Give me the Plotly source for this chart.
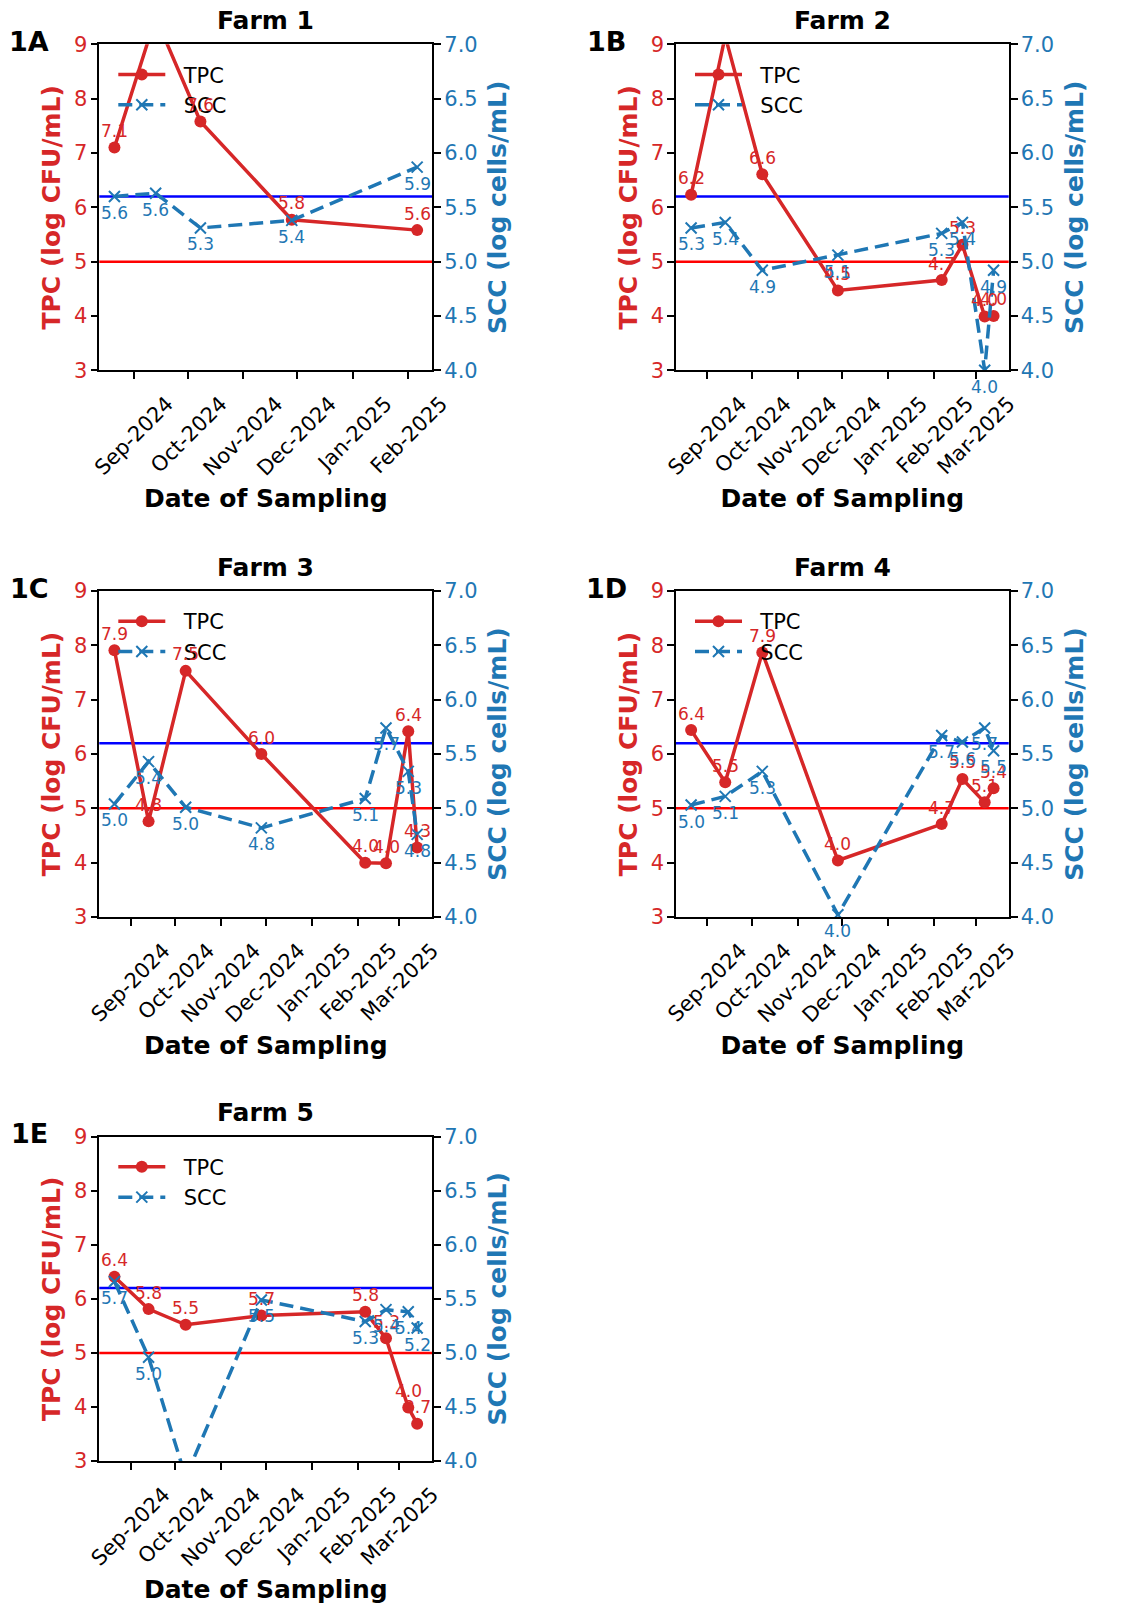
import plotly.graph_objects as go
from datetime import datetime

W, H = 1132, 1622
PAGE_OFFSET = 8  # browser default body margin, compensated in the layout

# ---------------- data ----------------
DATES = ["2024-08-21", "2024-09-13", "2024-10-08", "2024-11-28",
         "2025-02-06", "2025-02-20", "2025-03-07", "2025-03-13"]

FARMS = ["Farm 1", "Farm 2", "Farm 3", "Farm 4", "Farm 5"]
PANELS = ["1A", "1B", "1C", "1D", "1E"]

TPC_F1 = [7.10, 9.50, 7.58, 5.77, 5.58]
SCC_F1 = [5.60, 5.63, 5.31, 5.38, 5.87]
TPC_F2 = [6.23, 9.15, 6.61, 4.47, 4.66, 5.31, 3.99, 4.00]
SCC_F2 = [5.31, 5.36, 4.92, 5.06, 5.26, 5.36, 4.00, 4.92]
TPC_F3 = [7.91, 4.76, 7.53, 6.00, 4.00, 3.99, 6.42, 4.28]
SCC_F3 = [5.04, 5.43, 5.01, 4.82, 5.09, 5.74, 5.34, 4.76]
TPC_F4 = [6.44, 5.48, 7.87, 4.04, 4.71, 5.54, 5.11, 5.37]
SCC_F4 = [5.03, 5.11, 5.34, 4.02, 5.67, 5.61, 5.74, 5.53]
TPC_F5 = [6.41, 5.81, 5.52, 5.69, 5.76, 5.27, 3.99, 3.69]
SCC_F5 = [5.66, 4.96, 3.85, 5.49, 5.29, 5.40, 5.38, 5.23]

TPC_ALL = [TPC_F1, TPC_F2, TPC_F3, TPC_F4, TPC_F5]
SCC_ALL = [SCC_F1, SCC_F2, SCC_F3, SCC_F4, SCC_F5]

TPC_LIMIT = 5.0
SCC_LIMIT = 5.6

TPC_RANGE = [3, 9]
SCC_RANGE = [4.0, 7.0]
TPC_TICKS = [3, 4, 5, 6, 7, 8, 9]
SCC_TICKS = [4.0, 4.5, 5.0, 5.5, 6.0, 6.5, 7.0]

# ---------------- style / layout ----------------
RED = "#d62728"
BLUE = "#1f77b4"
FONT = "DejaVu Sans"
NB = "\u00a0\u00a0"

COLS = [(99.3, 432.3), (676.0, 1008.7)]
ROWS = [(44.3, 370.3), (591.0, 917.0), (1136.7, 1461.0)]


def px_x(v):
    return (v - PAGE_OFFSET) / W


def px_y(v):
    return 1 - (v - PAGE_OFFSET) / H


fig = go.Figure()
shapes = []
annotations = []
layout = {}

for i in range(5):
    n = i + 1
    r, c = divmod(i, 2)
    left, right = COLS[c]
    top, bottom = ROWS[r]
    tpc = TPC_ALL[i]
    scc = SCC_ALL[i]
    dates = DATES[:len(tpc)]

    xa = "x" if n == 1 else f"x{n}"
    ya = "y" if n == 1 else f"y{2 * n - 1}"
    yb = f"y{2 * n}"
    xkey = "xaxis" if n == 1 else f"xaxis{n}"
    yakey = "yaxis" if n == 1 else f"yaxis{2 * n - 1}"
    ybkey = f"yaxis{2 * n}"
    leg = "legend" if n == 1 else f"legend{n}"

    d = [datetime.fromisoformat(s) for s in dates]
    pad = (max(d) - min(d)) * 0.05
    xr = [(min(d) - pad).isoformat(), (max(d) + pad).isoformat()]

    fig.add_trace(go.Scatter(
        x=dates, y=tpc, mode="lines+markers", name=NB + "TPC",
        line=dict(color=RED, width=3.5),
        marker=dict(symbol="circle", size=12, color=RED),
        xaxis=xa, yaxis=ya, legend=leg, legendgroup=f"tpc{n}",
        cliponaxis=True, hoverinfo="skip"))
    fig.add_trace(go.Scatter(
        x=dates, y=scc, mode="lines+markers", name=NB + "SCC",
        line=dict(color=BLUE, width=3.5, dash="14px,7px"),
        marker=dict(symbol="x-thin", size=11, color=BLUE,
                    line=dict(color=BLUE, width=2)),
        xaxis=xa, yaxis=yb, legend=leg, legendgroup=f"scc{n}",
        cliponaxis=True, hoverinfo="skip"))

    # value labels (only for points inside the axis range)
    for dx, v in zip(dates, tpc):
        if TPC_RANGE[0] <= v <= TPC_RANGE[1]:
            annotations.append(dict(x=dx, y=v, xref=xa, yref=ya, text=f"{v:.1f}",
                                    showarrow=False, yshift=16.5,
                                    font=dict(family=FONT, size=17, color=RED)))
    for dx, v in zip(dates, scc):
        if SCC_RANGE[0] <= v <= SCC_RANGE[1]:
            annotations.append(dict(x=dx, y=v, xref=xa, yref=yb, text=f"{v:.1f}",
                                    showarrow=False, yshift=-16.5,
                                    font=dict(family=FONT, size=17, color=BLUE)))

    # threshold lines
    shapes.append(dict(type="line", xref=f"{xa} domain", x0=0, x1=1,
                       yref=ya, y0=TPC_LIMIT, y1=TPC_LIMIT,
                       line=dict(color="#ff0000", width=2.5), layer="below"))
    shapes.append(dict(type="line", xref=f"{xa} domain", x0=0, x1=1,
                       yref=yb, y0=SCC_LIMIT, y1=SCC_LIMIT,
                       line=dict(color="#0000ff", width=2.5), layer="below"))

    # titles
    annotations.append(dict(x=px_x((left + right) / 2), y=px_y(top - 24), xref="paper", yref="paper",
                            text=f"<b>{FARMS[i]}</b>", showarrow=False,
                            xanchor="center", yanchor="middle",
                            font=dict(family=FONT, size=25, color="black")))
    annotations.append(dict(x=px_x(left - 70), y=px_y(top - 3), xref="paper", yref="paper",
                            text=f"<b>{PANELS[i]}</b>", showarrow=False,
                            xanchor="center", yanchor="middle",
                            font=dict(family=FONT, size=27, color="black")))

    layout[xkey] = dict(
        domain=[px_x(left), px_x(right)], anchor=ya, type="date", range=xr,
        automargin=False,
        tick0="2024-09-01", dtick="M1", tickformat="%b-%Y", tickangle=-45,
        ticks="outside", ticklen=7, tickwidth=1.6, tickcolor="black",
        ticklabelshift=33, ticklabelstandoff=4,
        showline=True, linecolor="black", linewidth=1.6, mirror=True,
        showgrid=False, zeroline=False,
        tickfont=dict(family=FONT, size=21, color="black"),
        title=dict(text="<b>Date of Sampling</b>", standoff=10,
                   font=dict(family=FONT, size=25, color="black")))
    layout[yakey] = dict(
        domain=[px_y(bottom), px_y(top)], anchor=xa, range=TPC_RANGE,
        automargin=False,
        tickvals=TPC_TICKS, ticks="outside", ticklen=7, tickwidth=1.6, tickcolor="black",
        ticklabelstandoff=-1,
        showline=True, linecolor="black", linewidth=1.6,
        showgrid=False, zeroline=False,
        tickfont=dict(family=FONT, size=21, color=RED),
        title=dict(text="<b>TPC (log CFU/mL)</b>", standoff=6,
                   font=dict(family=FONT, size=25, color=RED)))
    layout[ybkey] = dict(
        overlaying=ya, side="right", anchor=xa, range=SCC_RANGE,
        automargin=False,
        tickvals=SCC_TICKS, tickformat=".1f",
        ticks="outside", ticklen=7, tickwidth=1.6, tickcolor="black",
        ticklabelstandoff=-1,
        showline=True, linecolor="black", linewidth=1.6,
        showgrid=False, zeroline=False,
        tickfont=dict(family=FONT, size=21, color=BLUE),
        title=dict(text="<b>SCC (log cells/mL)</b>", standoff=12,
                   font=dict(family=FONT, size=25, color=BLUE)))
    layout[leg] = dict(
        x=px_x(left + 14), y=px_y(top + 10), xanchor="left", yanchor="top",
        bgcolor="rgba(0,0,0,0)", borderwidth=0, itemwidth=47,
        tracegroupgap=14, traceorder="normal",
        font=dict(family=FONT, size=21, color="black"))

fig.update_layout(
    width=W, height=H, autosize=False,
    margin=dict(l=0, r=0, t=0, b=0),
    paper_bgcolor="white", plot_bgcolor="white",
    font=dict(family=FONT),
    shapes=shapes, annotations=annotations,
    **layout)

fig.write_html("out.html")
